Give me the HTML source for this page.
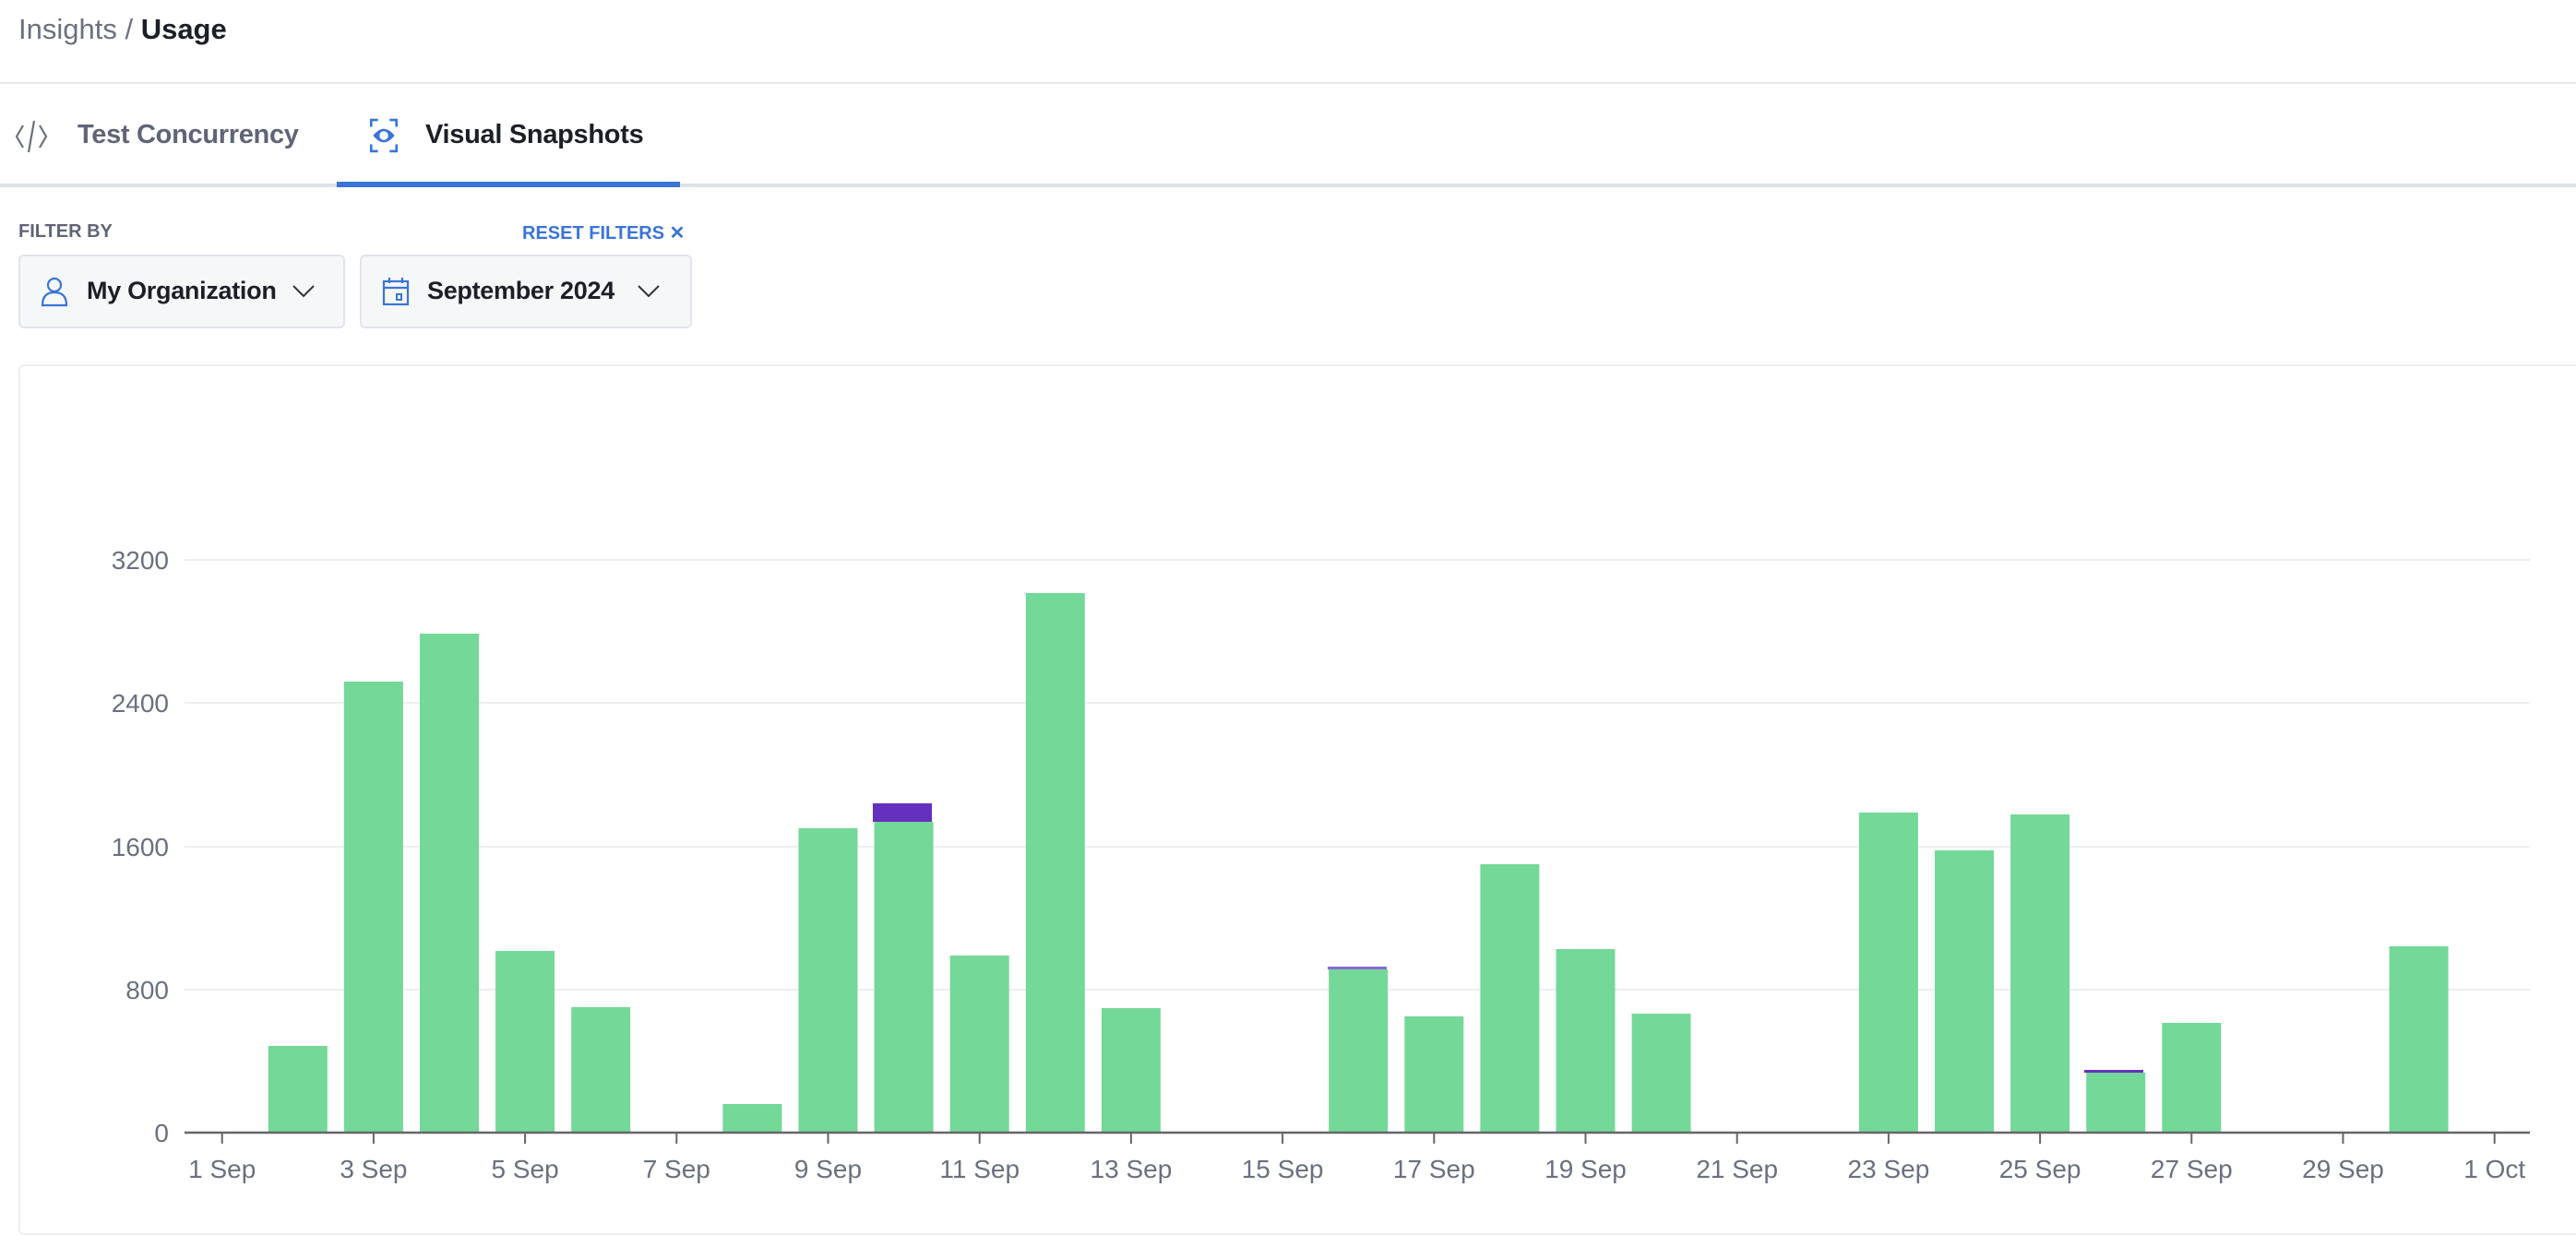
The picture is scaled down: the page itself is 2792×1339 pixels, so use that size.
<!DOCTYPE html>
<html><head><meta charset="utf-8"><style>
body{margin:0;width:2792px;height:1328px;background:#fff;font-family:"Liberation Sans",sans-serif;position:relative;overflow:hidden}
.a{position:absolute;white-space:nowrap}
</style></head><body>
<div class="a" style="left:20px;top:14px;font-size:31px;color:#6b7080">Insights / <span style="color:#1c1f26;font-weight:bold">Usage</span></div>
<div class="a" style="left:0;top:89px;width:2792px;height:2px;background:#e6e7ec"></div>
<svg class="a" style="left:16px;top:128px" width="36" height="40" viewBox="0 0 36 40"><path d="M9 8 L2 20 L9 32 M27 8 L34 20 L27 32 M21 3 L15 37" stroke="#6b7080" stroke-width="2.2" fill="none"/></svg>
<div class="a" style="left:84px;top:130px;font-size:29px;color:#5f6577;font-weight:bold;letter-spacing:-0.3px">Test Concurrency</div>
<svg class="a" style="left:396px;top:128px" width="40" height="38" viewBox="0 0 30 36"><path d="M2 9V2H9M21 2H28V9M28 27V34H21M9 34H2V27" stroke="#3a74d8" stroke-width="2.5" fill="none"/><path d="M4 18 Q15 4 26 18 Q15 32 4 18Z" fill="#3a74d8"/><circle cx="15" cy="18" r="4.5" fill="#fff"/></svg>
<div class="a" style="left:461px;top:130px;font-size:29px;color:#1c1f26;font-weight:bold;letter-spacing:-0.3px">Visual Snapshots</div>
<div class="a" style="left:0;top:199px;width:2792px;height:4px;background:#dfe1e8"></div>
<div class="a" style="left:365px;top:197px;width:372px;height:6px;background:#3a74d8"></div>
<div class="a" style="left:20px;top:240px;font-size:20px;color:#5f6577;font-weight:bold">FILTER BY</div>
<div class="a" style="left:566px;top:240px;font-size:20px;color:#3a74d8;font-weight:bold">RESET FILTERS ✕</div>
<div class="a" style="left:20px;top:276px;width:350px;height:76px;background:#f6f7f9;border:2px solid #e2e4ea;border-radius:6px"></div>
<svg class="a" style="left:44px;top:299px" width="30" height="34"><circle cx="15" cy="10" r="7" stroke="#3a74d8" stroke-width="2.2" fill="none"/><path d="M2 32 Q2 18 15 18 Q28 18 28 32Z" stroke="#3a74d8" stroke-width="2.2" fill="none"/></svg>
<div class="a" style="left:94px;top:300px;font-size:27px;color:#1c1f26;font-weight:bold;letter-spacing:-0.3px">My Organization</div>
<svg class="a" style="left:316px;top:308px" width="26" height="16"><path d="M2 2 L13 13 L24 2" stroke="#333" stroke-width="2" fill="none"/></svg>
<div class="a" style="left:390px;top:276px;width:356px;height:76px;background:#f6f7f9;border:2px solid #e2e4ea;border-radius:6px"></div>
<svg class="a" style="left:414px;top:300px" width="30" height="32"><rect x="2" y="5" width="26" height="25" stroke="#3a74d8" stroke-width="2.2" fill="none"/><path d="M2 12H28M8 1V7M22 1V7" stroke="#3a74d8" stroke-width="2.2"/><rect x="16" y="19" width="5" height="6" stroke="#3a74d8" stroke-width="2" fill="none"/></svg>
<div class="a" style="left:463px;top:300px;font-size:27px;color:#1c1f26;font-weight:bold;letter-spacing:-0.3px">September 2024</div>
<svg class="a" style="left:690px;top:308px" width="26" height="16"><path d="M2 2 L13 13 L24 2" stroke="#333" stroke-width="2" fill="none"/></svg>
<div class="a" style="left:20px;top:395px;width:2790px;height:940px;border:2px solid #eceef2;border-radius:6px"></div>
<svg class="a" style="left:0;top:0" width="2792" height="1328" font-family="Liberation Sans, sans-serif">
<g stroke="#eeeeee" stroke-width="2">
<line x1="200" x2="2742" y1="607" y2="607"/><line x1="200" x2="2742" y1="762" y2="762"/><line x1="200" x2="2742" y1="918" y2="918"/><line x1="200" x2="2742" y1="1073" y2="1073"/></g>
<g font-size="28" fill="#6b7080" text-anchor="end">
<text x="183" y="617">3200</text><text x="183" y="772">2400</text><text x="183" y="928">1600</text><text x="183" y="1083">800</text><text x="183" y="1238">0</text></g>
<g fill="#74d898" id="bars"></g>
<g id="ticks" stroke="#666" stroke-width="2"></g>
<line x1="200" x2="2742" y1="1228" y2="1228" stroke="#666" stroke-width="2.5"/>
<g id="labels" font-size="28" fill="#6b7080" text-anchor="middle"></g>
<rect x="946" y="871" width="64" height="20" fill="#6530bd"/>
<rect x="1439" y="1048" width="64" height="3" fill="#8a6bd0"/>
<rect x="2259" y="1160" width="64" height="3" fill="#6530bd"/>
</svg>
<script>
var tops={2:1134,3:739,4:687,5:1031,6:1092,8:1197,9:898,10:891,11:1036,12:643,13:1093,16:1051,17:1102,18:937,19:1029,20:1099,23:881,24:922,25:883,26:1163,27:1109,30:1026};
var ns="http://www.w3.org/2000/svg",b=document.getElementById('bars'),t=document.getElementById('ticks'),l=document.getElementById('labels');
function cx(d){return 240.7+(d-1)*82.1;}
for(var d in tops){var r=document.createElementNS(ns,'rect');r.setAttribute('x',cx(+d)-32);r.setAttribute('y',tops[d]);r.setAttribute('width',64);r.setAttribute('height',1228-tops[d]);b.appendChild(r);}
for(var d=1;d<=31;d+=2){var x=cx(d);var ln=document.createElementNS(ns,'line');ln.setAttribute('x1',x);ln.setAttribute('x2',x);ln.setAttribute('y1',1228);ln.setAttribute('y2',1240);t.appendChild(ln);
var tx=document.createElementNS(ns,'text');tx.setAttribute('x',x);tx.setAttribute('y',1277);tx.textContent=d==31?'1 Oct':d+' Sep';l.appendChild(tx);}
</script>
</body></html>
